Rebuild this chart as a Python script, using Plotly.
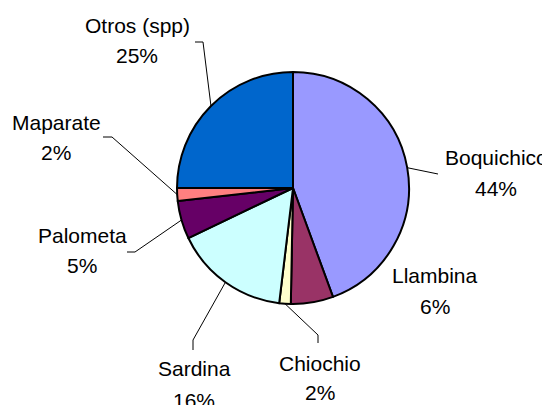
import math
import plotly.graph_objects as go

# ------------------------------------------------------------------ #
# Data
# ------------------------------------------------------------------ #
SPECIES = ["Boquichico", "Llambina", "Chiochio", "Sardina", "Palometa", "Maparate", "Otros (spp)"]
SHARE = [44.4, 5.9, 1.6, 16.0, 5.3, 1.8, 25.0]
COLORS = ["#9999FF", "#993366", "#FFFFCC", "#CCFFFF", "#660066", "#FF8080", "#0066CC"]

# ------------------------------------------------------------------ #
# Layout tokens (page pixels, origin top-left; page body has 8px margin)
# ------------------------------------------------------------------ #
PAGE_W, PAGE_H, OFF = 550, 405, 8
W, H = PAGE_W - OFF, PAGE_H - OFF
CX, CY, R = 293, 188, 116
FONT = dict(family="Arial, Liberation Sans, sans-serif", size=21, color="#000000")

# label centre (x, y of name line, y of percent line), leader elbow points
LABELS = {
    "Boquichico": ((496, 157, 188), [(438, 174)]),
    "Llambina": ((435, 275, 306), []),
    "Chiochio": ((320, 363, 392), [(318, 335), (318, 343)]),
    "Sardina": ((194, 368, 400), [(193, 340), (193, 350)]),
    "Palometa": ((82, 235, 265), [(135, 252), (127, 252)]),
    "Maparate": ((56, 122, 152), [(112, 137), (103, 137)]),
    "Otros (spp)": ((137, 25, 55), [(203, 42), (195, 42)]),
}


def px(x, y):
    return (x - OFF) / W, 1 - (y - OFF) / H


(dx0, dy1), (dx1, dy0) = px(CX - R, CY - R), px(CX + R, CY + R)
fig = go.Figure(go.Pie(
    labels=SPECIES, values=SHARE, sort=False, direction="clockwise", rotation=0,
    marker=dict(colors=COLORS, line=dict(color="#000000", width=2)),
    textinfo="none", hoverinfo="label+percent", showlegend=False,
    domain=dict(x=[dx0, dx1], y=[dy0, dy1]),
))

total = sum(SHARE)
cum = 0.0
annotations, shapes = [], []
for name, val in zip(SPECIES, SHARE):
    mid = (cum + val / 2) / total * 2 * math.pi
    cum += val
    (tx, ty1, ty2), elbows = LABELS[name]
    for txt, ty in ((name, ty1), (f"{round(val / total * 100)}%", ty2)):
        x, y = px(tx, ty)
        annotations.append(dict(text=txt, x=x, y=y, xref="paper", yref="paper",
                                showarrow=False, font=FONT, xanchor="center", yanchor="middle"))
    if elbows:
        pts = [(CX + R * math.sin(mid), CY - R * math.cos(mid))] + elbows
        for (x0, y0), (x1, y1) in zip(pts[:-1], pts[1:]):
            a0, b0 = px(x0, y0)
            a1, b1 = px(x1, y1)
            shapes.append(dict(type="line", xref="paper", yref="paper",
                               x0=a0, y0=b0, x1=a1, y1=b1,
                               line=dict(color="#000000", width=1)))

fig.update_layout(
    width=W, height=H, margin=dict(l=0, r=0, t=0, b=0),
    paper_bgcolor="#FFFFFF", plot_bgcolor="#FFFFFF",
    annotations=annotations, shapes=shapes,
)

fig.write_html("out.html")
